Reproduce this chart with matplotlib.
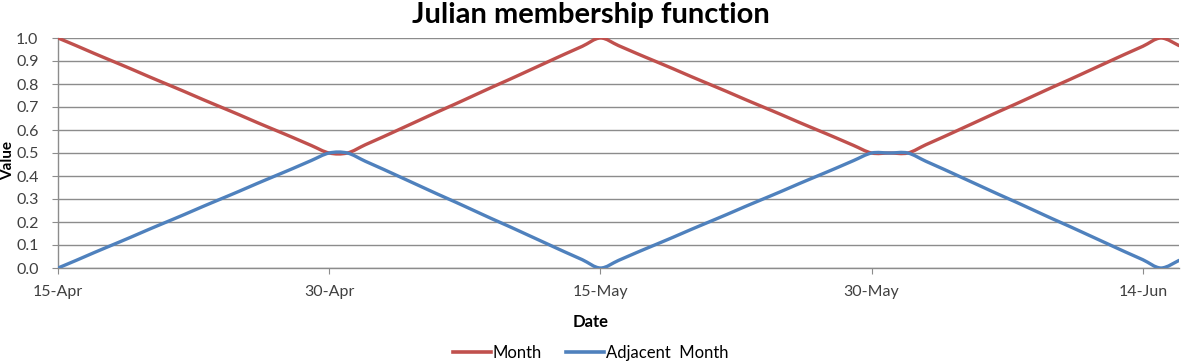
import numpy as np
import matplotlib
matplotlib.use("Agg")
import matplotlib.pyplot as plt
import matplotlib.dates as mdates
from matplotlib.path import Path
from matplotlib.patches import PathPatch
from matplotlib.lines import Line2D
import datetime as dt

start_date = "2013-04-15"
end_date = "2013-06-16"
dates = np.arange(np.datetime64(start_date), np.datetime64(end_date) + 1)

month = [
    1.000, 0.967, 0.933, 0.900, 0.867, 0.833, 0.800, 0.767, 0.733, 0.700,
    0.667, 0.633, 0.600, 0.567, 0.533, 0.500,                       # Apr 15-30
    0.500, 0.536, 0.571, 0.607, 0.643, 0.679, 0.714, 0.750, 0.786, 0.821,
    0.857, 0.893, 0.929, 0.964, 1.000,                              # May 1-15
    0.967, 0.933, 0.900, 0.867, 0.833, 0.800, 0.767, 0.733, 0.700, 0.667,
    0.633, 0.600, 0.567, 0.533, 0.500, 0.500,                       # May 16-31
    0.500, 0.536, 0.571, 0.607, 0.643, 0.679, 0.714, 0.750, 0.786, 0.821,
    0.857, 0.893, 0.929, 0.964, 1.000, 0.967,                       # Jun 1-16
]
adjacent = [
    0.000, 0.033, 0.067, 0.100, 0.133, 0.167, 0.200, 0.233, 0.267, 0.300,
    0.333, 0.367, 0.400, 0.433, 0.467, 0.500,
    0.500, 0.464, 0.429, 0.393, 0.357, 0.321, 0.286, 0.250, 0.214, 0.179,
    0.143, 0.107, 0.071, 0.036, 0.000,
    0.033, 0.067, 0.100, 0.133, 0.167, 0.200, 0.233, 0.267, 0.300, 0.333,
    0.367, 0.400, 0.433, 0.467, 0.500, 0.500,
    0.500, 0.464, 0.429, 0.393, 0.357, 0.321, 0.286, 0.250, 0.214, 0.179,
    0.143, 0.107, 0.071, 0.036, 0.000, 0.033,
]
series_names = ["Month", "Adjacent  Month"]
colors = ["#C0504D", "#4F81BD"]
y_ticks = [round(0.1 * i, 1) for i in range(11)]

fig = plt.figure(figsize=(11.81, 3.62), dpi=100)
ax = fig.add_axes([58 / 1181, 1 - 268 / 362, (1179 - 58) / 1181, 230 / 362])

xnum = mdates.date2num(dates.astype("datetime64[D]").astype(dt.datetime))


def smooth_path(x, y):
    pts = np.column_stack([x, y])
    n = len(pts)
    verts = [pts[0]]
    codes = [Path.MOVETO]
    for i in range(n - 1):
        p0 = pts[i - 1] if i > 0 else pts[i]
        p1 = pts[i]
        p2 = pts[i + 1]
        p3 = pts[i + 2] if i + 2 < n else pts[i + 1]
        c1 = p1 + (p2 - p0) / 6.0
        c2 = p2 - (p3 - p1) / 6.0
        verts += [c1, c2, p2]
        codes += [Path.CURVE4] * 3
    return Path(verts, codes)


for vals, c in zip([month, adjacent], colors):
    patch = PathPatch(smooth_path(xnum, np.array(vals)), facecolor="none",
                      edgecolor=c, lw=2.4, capstyle="round", joinstyle="round",
                      zorder=3, clip_on=True)
    ax.add_patch(patch)

ax.set_xlim(xnum[0], xnum[-1])
ax.set_ylim(0, 1.0)
ax.set_yticks(y_ticks)
ax.yaxis.set_major_formatter(matplotlib.ticker.FormatStrFormatter("%.1f"))
ax.set_xticks(xnum[::15])
ax.xaxis.set_major_formatter(mdates.DateFormatter("%-d-%b"))

ax.grid(axis="y", color="#8C8C8C", lw=1.0)
ax.set_axisbelow(True)
for s in ["top", "right"]:
    ax.spines[s].set_visible(False)
for s in ["left", "bottom"]:
    ax.spines[s].set_color("#8C8C8C")
    ax.spines[s].set_linewidth(1.0)
ax.tick_params(axis="both", colors="#8C8C8C", labelcolor="#404040",
               labelsize=11.5, length=4, direction="out")
ax.tick_params(axis="x", pad=8)
ax.tick_params(axis="y", pad=10)
for lab in ax.get_xticklabels() + ax.get_yticklabels():
    lab.set_family("Lato")

fig.text(0.5, 1 - 15 / 362, "Julian membership function", ha="center", va="center",
         fontsize=21, fontweight="bold", family="Lato", color="#000000")
fig.text(0.5, 1 - 322 / 362, "Date", ha="center", va="center",
         fontsize=12, fontweight="bold", family="Lato")
fig.text(8 / 1181, 1 - 160 / 362, "Value", rotation=90, ha="center", va="center",
         fontsize=11, fontweight="bold", family="Lato")

handles = [Line2D([0], [0], color=c, lw=2.6) for c in colors]
fig.legend(handles, series_names, loc="center", bbox_to_anchor=(0.5, 1 - 353 / 362),
           ncol=2, frameon=False, prop={"family": "Lato", "size": 12},
           handlelength=2.3, handletextpad=0.1, columnspacing=1.4)

fig.savefig("out.png", dpi=100)
